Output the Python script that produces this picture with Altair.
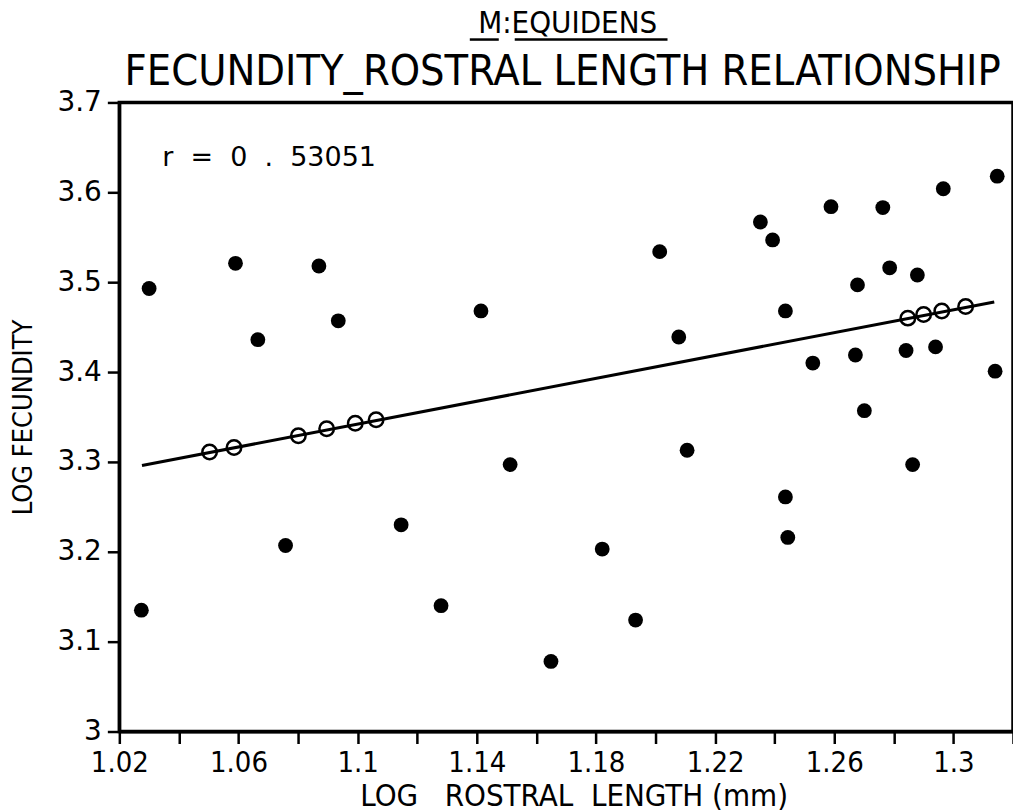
import json
import altair as alt
import pandas as pd

# ---------------- data ----------------
FILLED_X = [1.0274, 1.0300, 1.0590, 1.0665, 1.0758, 1.0870, 1.0935, 1.1146, 1.1280,
            1.1414, 1.1512, 1.1649, 1.1821, 1.1933, 1.2014, 1.2078, 1.2106, 1.2352,
            1.2393, 1.2589, 1.2763, 1.2966, 1.3147, 1.2786, 1.2879, 1.2678, 1.2436,
            1.2528, 1.2671, 1.2841, 1.2940, 1.3140, 1.2701, 1.2863, 1.2436, 1.2444]
FILLED_Y = [3.135, 3.493, 3.521, 3.436, 3.207, 3.518, 3.457, 3.230, 3.140,
            3.468, 3.297, 3.078, 3.203, 3.124, 3.534, 3.439, 3.313, 3.567,
            3.547, 3.584, 3.583, 3.604, 3.618, 3.516, 3.508, 3.497, 3.468,
            3.410, 3.419, 3.424, 3.428, 3.401, 3.357, 3.297, 3.261, 3.216]

OPEN_X = [1.0503, 1.0585, 1.0801, 1.0896, 1.0992, 1.1062, 1.2847, 1.2900, 1.2961, 1.3041]
OPEN_Y = [3.311, 3.316, 3.329, 3.337, 3.343, 3.347, 3.460, 3.464, 3.468, 3.473]

LINE_X = [1.0276, 1.3137]
LINE_Y = [3.296, 3.478]

X_TICK_VALUES = [1.02, 1.04, 1.06, 1.08, 1.10, 1.12, 1.14, 1.16, 1.18, 1.20,
                 1.22, 1.24, 1.26, 1.28, 1.30, 1.32]
X_TICK_LABELS = ["1.02", "1.06", "1.1", "1.14", "1.18", "1.22", "1.26", "1.3"]
Y_TICK_VALUES = [3.0, 3.1, 3.2, 3.3, 3.4, 3.5, 3.6, 3.7]

TITLE_1 = "M:EQUIDENS"
TITLE_2 = "FECUNDITY_ROSTRAL LENGTH RELATIONSHIP"
X_TITLE = "LOG\u00a0\u00a0\u00a0ROSTRAL\u00a0\u00a0LENGTH\u00a0(mm)"
Y_TITLE = "LOG\u00a0FECUNDITY"
R_LABEL = "r\u00a0\u00a0=\u00a0\u00a00\u00a0\u00a0.\u00a0\u00a053051"

# ---------------- tables ----------------
filled = pd.DataFrame({"x": FILLED_X, "y": FILLED_Y})
opened = pd.DataFrame({"x": OPEN_X, "y": OPEN_Y})
line = pd.DataFrame({"x": LINE_X, "y": LINE_Y})
one = pd.DataFrame({"t": [0]})

NARROW = "Liberation Sans Narrow, DejaVu Sans Condensed, Arial Narrow, sans-serif"
ROUND = "DejaVu Sans"

W, H = 895, 630

x_scale = alt.Scale(domain=[1.02, 1.32], nice=False, zero=False)
y_scale = alt.Scale(domain=[3.0, 3.7], nice=False, zero=False)

label_expr = ("indexof(" + json.dumps(X_TICK_LABELS) + ", format(datum.value, '.2~f')) >= 0"
              " ? format(datum.value, '.2~f') : ''")

x_axis = alt.Axis(values=X_TICK_VALUES, labelExpr=label_expr, title=X_TITLE,
                  labelFont=NARROW, labelFontSize=29, labelColor="black", labelPadding=5,
                  labelFlush=False, labelOverlap=False,
                  titleFont=NARROW, titleFontSize=31, titleFontWeight="normal",
                  titleColor="black", titleX=455, titleY=74, titleBaseline="alphabetic",
                  domainColor="black", domainWidth=3, tickColor="black", tickWidth=2.5,
                  tickSize=12, grid=False)
y_axis = alt.Axis(values=Y_TICK_VALUES, format=".1~f", title=Y_TITLE,
                  labelFont=ROUND, labelFontSize=28, labelColor="black", labelPadding=6,
                  labelFlush=False, labelOverlap=False,
                  titleFont=NARROW, titleFontSize=27, titleFontWeight="normal",
                  titleColor="black", titleX=-96, titleY=315, titleAngle=270,
                  titleAlign="center", titleBaseline="middle",
                  domainColor="black", domainWidth=3, tickColor="black", tickWidth=2.5,
                  tickSize=12, grid=False)

base_x = alt.X("x:Q", scale=x_scale, axis=x_axis)
base_y = alt.Y("y:Q", scale=y_scale, axis=y_axis)

reg_line = alt.Chart(line).mark_line(color="black", strokeWidth=3).encode(x=base_x, y=base_y)

filled_pts = alt.Chart(filled).mark_circle(color="black", opacity=1, size=220).encode(
    x=alt.X("x:Q", scale=x_scale), y=alt.Y("y:Q", scale=y_scale))

open_pts = alt.Chart(opened).mark_point(shape="circle", filled=False, color="black",
                                         strokeWidth=2.5, size=210, opacity=1).encode(
    x=alt.X("x:Q", scale=x_scale), y=alt.Y("y:Q", scale=y_scale))

r_text = alt.Chart(one).mark_text(text=R_LABEL, font=ROUND, fontSize=27, align="left",
                                  baseline="alphabetic", color="black").encode(
    x=alt.value(43), y=alt.value(64))

t1 = alt.Chart(one).mark_text(text=TITLE_1, font=NARROW, fontSize=31, align="center",
                              baseline="alphabetic", color="black").encode(
    x=alt.value(449), y=alt.value(-70))
t2 = alt.Chart(one).mark_text(text=TITLE_2, font=NARROW, fontSize=43, align="center",
                              baseline="alphabetic", color="black").encode(
    x=alt.value(444), y=alt.value(-17))
u1 = alt.Chart(one).mark_rule(color="black", strokeWidth=2.5).encode(
    x=alt.value(351), x2=alt.value(380), y=alt.value(-63))
u2 = alt.Chart(one).mark_rule(color="black", strokeWidth=2.5).encode(
    x=alt.value(396), x2=alt.value(549), y=alt.value(-63))

chart = alt.layer(reg_line, open_pts, filled_pts, r_text, t1, t2, u1, u2).properties(
    width=W, height=H,
    autosize=alt.AutoSizeParams(type="none"),
    padding={"left": 119.5, "top": 102, "right": 0, "bottom": 80},
    background="white",
).configure_view(stroke="black", strokeWidth=3.5)

chart.save("out.html", embed_options={"renderer": "svg", "actions": False})
